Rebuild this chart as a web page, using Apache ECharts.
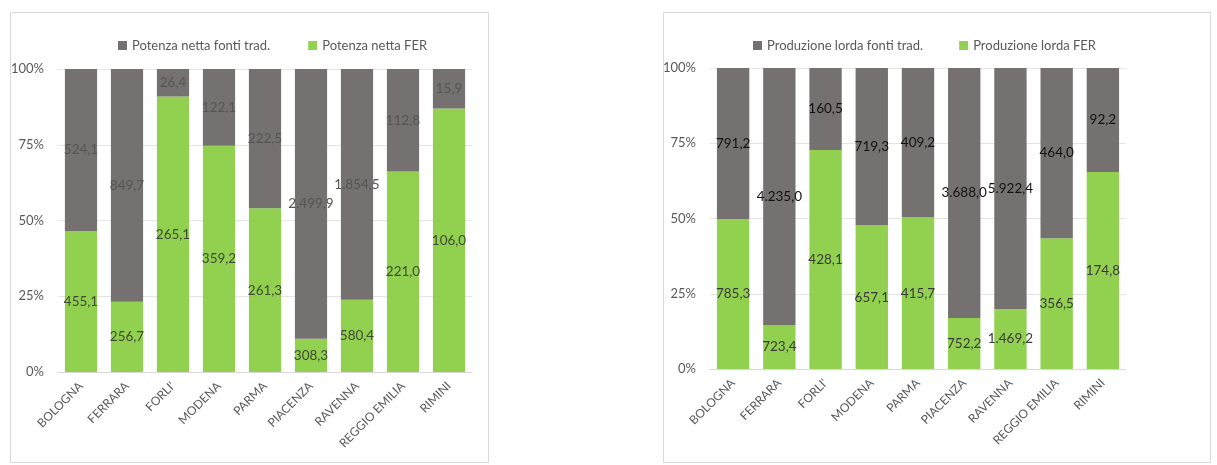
<!DOCTYPE html>
<html>
<head>
<meta charset="utf-8">
<script src="https://cdn.jsdelivr.net/npm/echarts@6/dist/echarts.min.js"></script>
<style>
html,body{margin:0;padding:0;background:#fff;}
#c{width:1217px;height:465px;}
</style>
</head>
<body>
<div id="c"></div>
<script>
const categories = ['BOLOGNA','FERRARA',"FORLI'",'MODENA','PARMA','PIACENZA','RAVENNA','REGGIO EMILIA','RIMINI'];
const potenzaTrad = [524.1, 849.7, 26.4, 122.1, 222.5, 2499.9, 1854.5, 112.8, 15.9];
const potenzaFER  = [455.1, 256.7, 265.1, 359.2, 261.3, 308.3, 580.4, 221.0, 106.0];
const produzioneTrad = [791.2, 4235.0, 160.5, 719.3, 409.2, 3688.0, 5922.4, 464.0, 92.2];
const produzioneFER  = [785.3, 723.4, 428.1, 657.1, 415.7, 752.2, 1469.2, 356.5, 174.8];
const yTicks = [0, 25, 50, 75, 100];

const FONT = 'Lato';
const GREY = '#767171';
const GREEN = '#92D050';

function fmtIt(v){
  const parts = v.toFixed(1).split('.');
  const int = parts[0].replace(/\B(?=(\d{3})+(?!\d))/g, '.');
  return int + ',' + parts[1];
}
function pct(a, b){ return a.map((v,i)=> v / (a[i] + b[i]) * 100); }

function yAxis(gi){
  return {
    type:'value', gridIndex:gi, min:yTicks[0], max:yTicks[yTicks.length-1], interval:25,
    axisLine:{show:false}, axisTick:{show:false},
    axisLabel:{formatter:'{value}%', color:'#595959', fontFamily:FONT, fontSize:13, margin:14},
    splitLine:{lineStyle:{color:'#e4e4e4', width:1}}
  };
}
function xAxis(gi){
  return {
    type:'category', gridIndex:gi, data:categories,
    axisLine:{lineStyle:{color:'#d9d9d9'}}, axisTick:{show:false},
    axisLabel:{rotate:45, color:'#595959', fontFamily:FONT, fontSize:12, margin:12, interval:0}
  };
}
function barSeries(name, raw, other, color, gi, labelColor, stack){
  return {
    name:name, type:'bar', stack:stack, xAxisIndex:gi, yAxisIndex:gi,
    data: pct(raw, other), barCategoryGap:'30%',
    itemStyle:{color:color},
    label:{show:true, position:'inside', color:labelColor, fontFamily:FONT, fontSize:13.5,
      formatter:(p)=>fmtIt(raw[p.dataIndex])},
    emphasis:{disabled:true}
  };
}

const chart = echarts.init(document.getElementById('c'), null, {renderer:'canvas'});
chart.setOption({
  animation:false,
  backgroundColor:'#ffffff',
  graphic:[
    {type:'rect', shape:{x:10.5, y:12.5, width:478, height:450}, style:{fill:'none', stroke:'#d9d9d9', lineWidth:1}, z:-1},
    {type:'rect', shape:{x:663.5, y:12.5, width:547, height:450}, style:{fill:'none', stroke:'#d9d9d9', lineWidth:1}, z:-1}
  ],
  legend:[
    {data:['Potenza netta fonti trad.','Potenza netta FER'], left:113, top:34, itemWidth:9, itemHeight:9, itemGap:38, icon:'rect',
     textStyle:{color:'#595959', fontFamily:FONT, fontSize:13}},
    {data:['Produzione lorda fonti trad.','Produzione lorda FER'], left:748, top:34, itemWidth:9, itemHeight:9, itemGap:36, icon:'rect',
     textStyle:{color:'#595959', fontFamily:FONT, fontSize:13}}
  ],
  grid:[
    {left:58, top:69, width:414, height:303},
    {left:710, top:68, width:416, height:301}
  ],
  xAxis:[xAxis(0), xAxis(1)],
  yAxis:[yAxis(0), yAxis(1)],
  series:[
    barSeries('Potenza netta FER', potenzaFER, potenzaTrad, GREEN, 0, '#3f4a34', 'a'),
    barSeries('Potenza netta fonti trad.', potenzaTrad, potenzaFER, GREY, 0, '#555555', 'a'),
    barSeries('Produzione lorda FER', produzioneFER, produzioneTrad, GREEN, 1, '#3a3a3a', 'b'),
    barSeries('Produzione lorda fonti trad.', produzioneTrad, produzioneFER, GREY, 1, '#111111', 'b')
  ]
});
</script>
</body>
</html>
